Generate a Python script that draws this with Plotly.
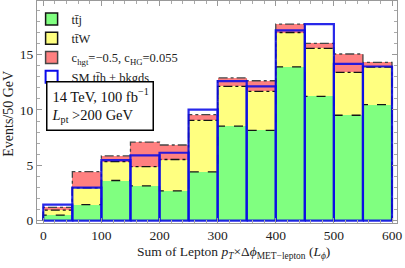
import plotly.graph_objects as go

# ---- data ----
bin_edges = [0, 50, 100, 150, 200, 250, 300, 350, 400, 450, 500, 550, 600]
ttj = [0.50, 1.44, 3.62, 3.14, 2.68, 4.40, 8.54, 8.15, 13.90, 11.23, 9.52, 10.48]
ttW_total = [0.95, 2.95, 5.32, 4.88, 5.52, 9.05, 12.13, 11.68, 17.00, 15.57, 13.39, 13.87]
bsm_total = [1.20, 4.42, 5.84, 7.10, 6.83, 9.58, 12.90, 12.64, 17.76, 16.02, 15.06, 14.31]
sm_total = [1.45, 2.98, 5.47, 5.90, 6.13, 10.03, 12.60, 12.13, 17.20, 17.76, 14.17, 13.93]

x_ticks = [0, 100, 200, 300, 400, 500, 600]
y_ticks = [0, 5, 10, 15]

names = ["tt\u0304j", "tt\u0304W",
         "c<sub>hgt</sub>=\u22120.5, c<sub>HG</sub>=0.055",
         "SM tt\u0304h + bkgds"]

centers = [(a + b) / 2 for a, b in zip(bin_edges[:-1], bin_edges[1:])]
widths = [b - a for a, b in zip(bin_edges[:-1], bin_edges[1:])]

GREEN = "rgb(128,255,128)"
YELLOW = "rgb(255,255,128)"
RED = "rgb(255,128,128)"
BLUE = "rgba(10,10,230,0.88)"
FONT = "Liberation Serif"


def step_outline(vals):
    xs, ys = [bin_edges[0]], [0]
    for a, b, v in zip(bin_edges[:-1], bin_edges[1:], vals):
        xs += [a, b]
        ys += [v, v]
    xs.append(bin_edges[-1])
    ys.append(0)
    return xs, ys


def rects(vals):
    xs, ys = [], []
    for a, b, v in zip(bin_edges[:-1], bin_edges[1:], vals):
        xs += [a, a, b, b, a, None]
        ys += [0, v, v, 0, 0, None]
    return xs, ys


fig = go.Figure()

for vals, col in [(bsm_total, RED), (ttW_total, YELLOW), (ttj, GREEN)]:
    fig.add_trace(go.Bar(x=centers, y=vals, width=widths, marker=dict(color=col, line=dict(width=0)),
                         showlegend=False, hoverinfo="skip"))

for vals, col, dash in [(bsm_total, "rgb(70,70,70)", "dashdot"),
                        (ttW_total, "rgb(20,20,20)", "dashdot"),
                        (ttj, "rgb(20,20,20)", "dash")]:
    xs, ys = step_outline(vals)
    fig.add_trace(go.Scatter(x=xs, y=ys, mode="lines", line=dict(color=col, width=1.3, dash=dash),
                             showlegend=False, hoverinfo="skip"))

xs, ys = rects(sm_total)
fig.add_trace(go.Scatter(x=xs, y=ys, mode="lines", line=dict(color=BLUE, width=2.2),
                         showlegend=False, hoverinfo="skip"))

for nm, col, lc, lw in [(names[0], GREEN, "rgb(20,20,20)", 1.5), (names[1], YELLOW, "rgb(20,20,20)", 1.5),
                        (names[2], RED, "rgb(70,70,70)", 1.5),
                        (names[3], "rgba(255,255,255,0)", "rgb(10,10,235)", 2)]:
    fig.add_trace(go.Bar(x=[None], y=[None], name=nm,
                         marker=dict(color=col, line=dict(color=lc, width=lw))))

axis_common = dict(showline=True, linecolor="#999", linewidth=1, mirror="ticks", ticks="inside",
                   tickcolor="#999", showgrid=False, zeroline=False, automargin=False,
                   ticklabeloverflow="allow",
                   tickfont=dict(family=FONT, size=13.5, color="#222"))

fig.update_layout(
    width=405, height=268,
    margin=dict(l=37, r=8, t=1, b=45, autoexpand=False),
    paper_bgcolor="white", plot_bgcolor="white",
    barmode="overlay", bargap=0,
    font=dict(family=FONT, size=13, color="#222"),
    xaxis=dict(range=[-10.8, 608.6], tickvals=x_ticks, ticklen=5,
               minor=dict(dtick=20, tick0=0, ticks="inside", ticklen=3, tickcolor="#aaa"),
               **axis_common),
    yaxis=dict(range=[-0.22, 19.85], tickvals=y_ticks, ticklen=5,
               minor=dict(dtick=1, tick0=0, ticks="inside", ticklen=3, tickcolor="#aaa"),
               **axis_common),
    legend=dict(x=-0.015, y=0.985, xanchor="left", yanchor="top", bgcolor="rgba(0,0,0,0)",
                font=dict(family=FONT, size=12.5, color="#222"), itemwidth=30, tracegroupgap=0),
    showlegend=True,
)

fig.add_annotation(xref="paper", yref="paper", x=0.025, y=0.638, xanchor="left", yanchor="top",
                   text="14 TeV, 100 fb<sup>\u22121</sup><br><i>L</i><sub>pt</sub> >200 GeV",
                   showarrow=False, align="left", bordercolor="black", borderwidth=1.5, borderpad=4,
                   bgcolor="white", font=dict(family=FONT, size=14.5, color="#111"))

fig.add_annotation(xref="paper", yref="paper", x=0.545, y=-0.135, xanchor="center", yanchor="middle",
                   text="Sum of Lepton <i>p</i><sub><i>T</i></sub>\u00d7\u0394<i>\u03d5</i><sub>MET\u2212lepton</sub> (<i>L</i><sub><i>\u03d5</i></sub>)",
                   showarrow=False, font=dict(family=FONT, size=13.5, color="#222"))

fig.add_annotation(xref="paper", yref="paper", x=-0.079, y=0.49, xanchor="center", yanchor="middle",
                   text="Events/50 GeV", textangle=-90,
                   showarrow=False, font=dict(family=FONT, size=14, color="#222"))

fig.write_html("out.html", config={"displayModeBar": False},
               post_script="document.body.style.margin='0';")
